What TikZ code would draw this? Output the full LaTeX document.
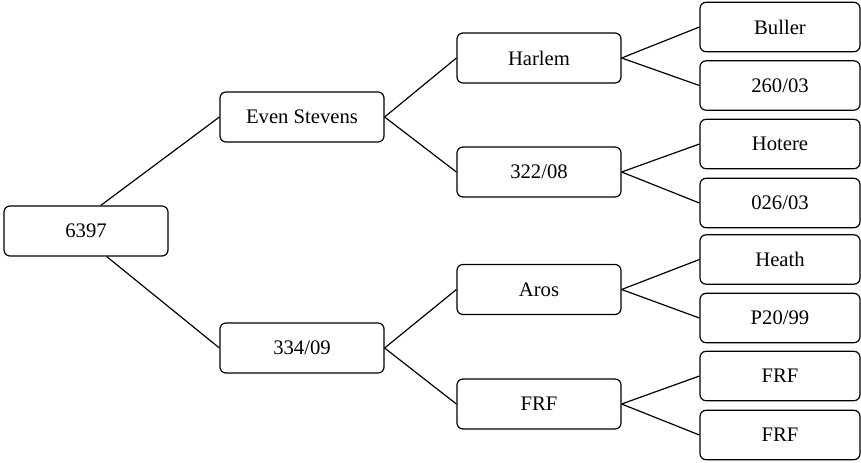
\documentclass[tikz,border=0pt]{standalone}
\usepackage{fontspec}
\setmainfont{Liberation Serif}
\usepackage{tikz}
\usetikzlibrary{calc}

\begin{document}
\begin{tikzpicture}[x=0.75pt, y=-0.75pt,
    treebox/.style={draw, line width=0.9pt, rounded corners=4.5pt, minimum width=123pt, minimum height=37.5pt, inner sep=0pt, font=\fontsize{15.5}{18}\selectfont},
    leafbox/.style={treebox, minimum width=120pt, minimum height=37pt},
    link/.style={line width=0.9pt}]
    \useasboundingbox (0,0) rectangle (861,462);
    % root
    \node[treebox] (root) at (86,231) {6397};
    % second level
    \node[treebox] (even) at (302,117) {Even Stevens};
    \node[treebox] (n334) at (302,348) {334/09};
    % third level
    \node[treebox] (harlem) at (539,58) {Harlem};
    \node[treebox] (n322) at (539,172) {322/08};
    \node[treebox] (aros) at (539,289.5) {Aros};
    \node[treebox] (frf) at (539,404) {FRF};
    % leaves
    \node[leafbox] (buller) at (780,27) {Buller};
    \node[leafbox] (n260) at (780,85.5) {260/03};
    \node[leafbox] (hotere) at (780,144) {Hotere};
    \node[leafbox] (n026) at (780,203) {026/03};
    \node[leafbox] (heath) at (780,259.5) {Heath};
    \node[leafbox] (p20) at (780,318) {P20/99};
    \node[leafbox] (frfa) at (780,376) {FRF};
    \node[leafbox] (frfb) at (780,435) {FRF};
    % links
    \draw[link] (root.60) -- (even.west);
    \draw[link] (root.-51) -- (n334.west);
    \foreach \a/\b in {even/harlem, even/n322, n334/aros, n334/frf,
        harlem/buller, harlem/n260, n322/hotere, n322/n026,
        aros/heath, aros/p20, frf/frfa, frf/frfb}
        { \draw[link] (\a.east) -- (\b.west); }
\end{tikzpicture}
\end{document}
